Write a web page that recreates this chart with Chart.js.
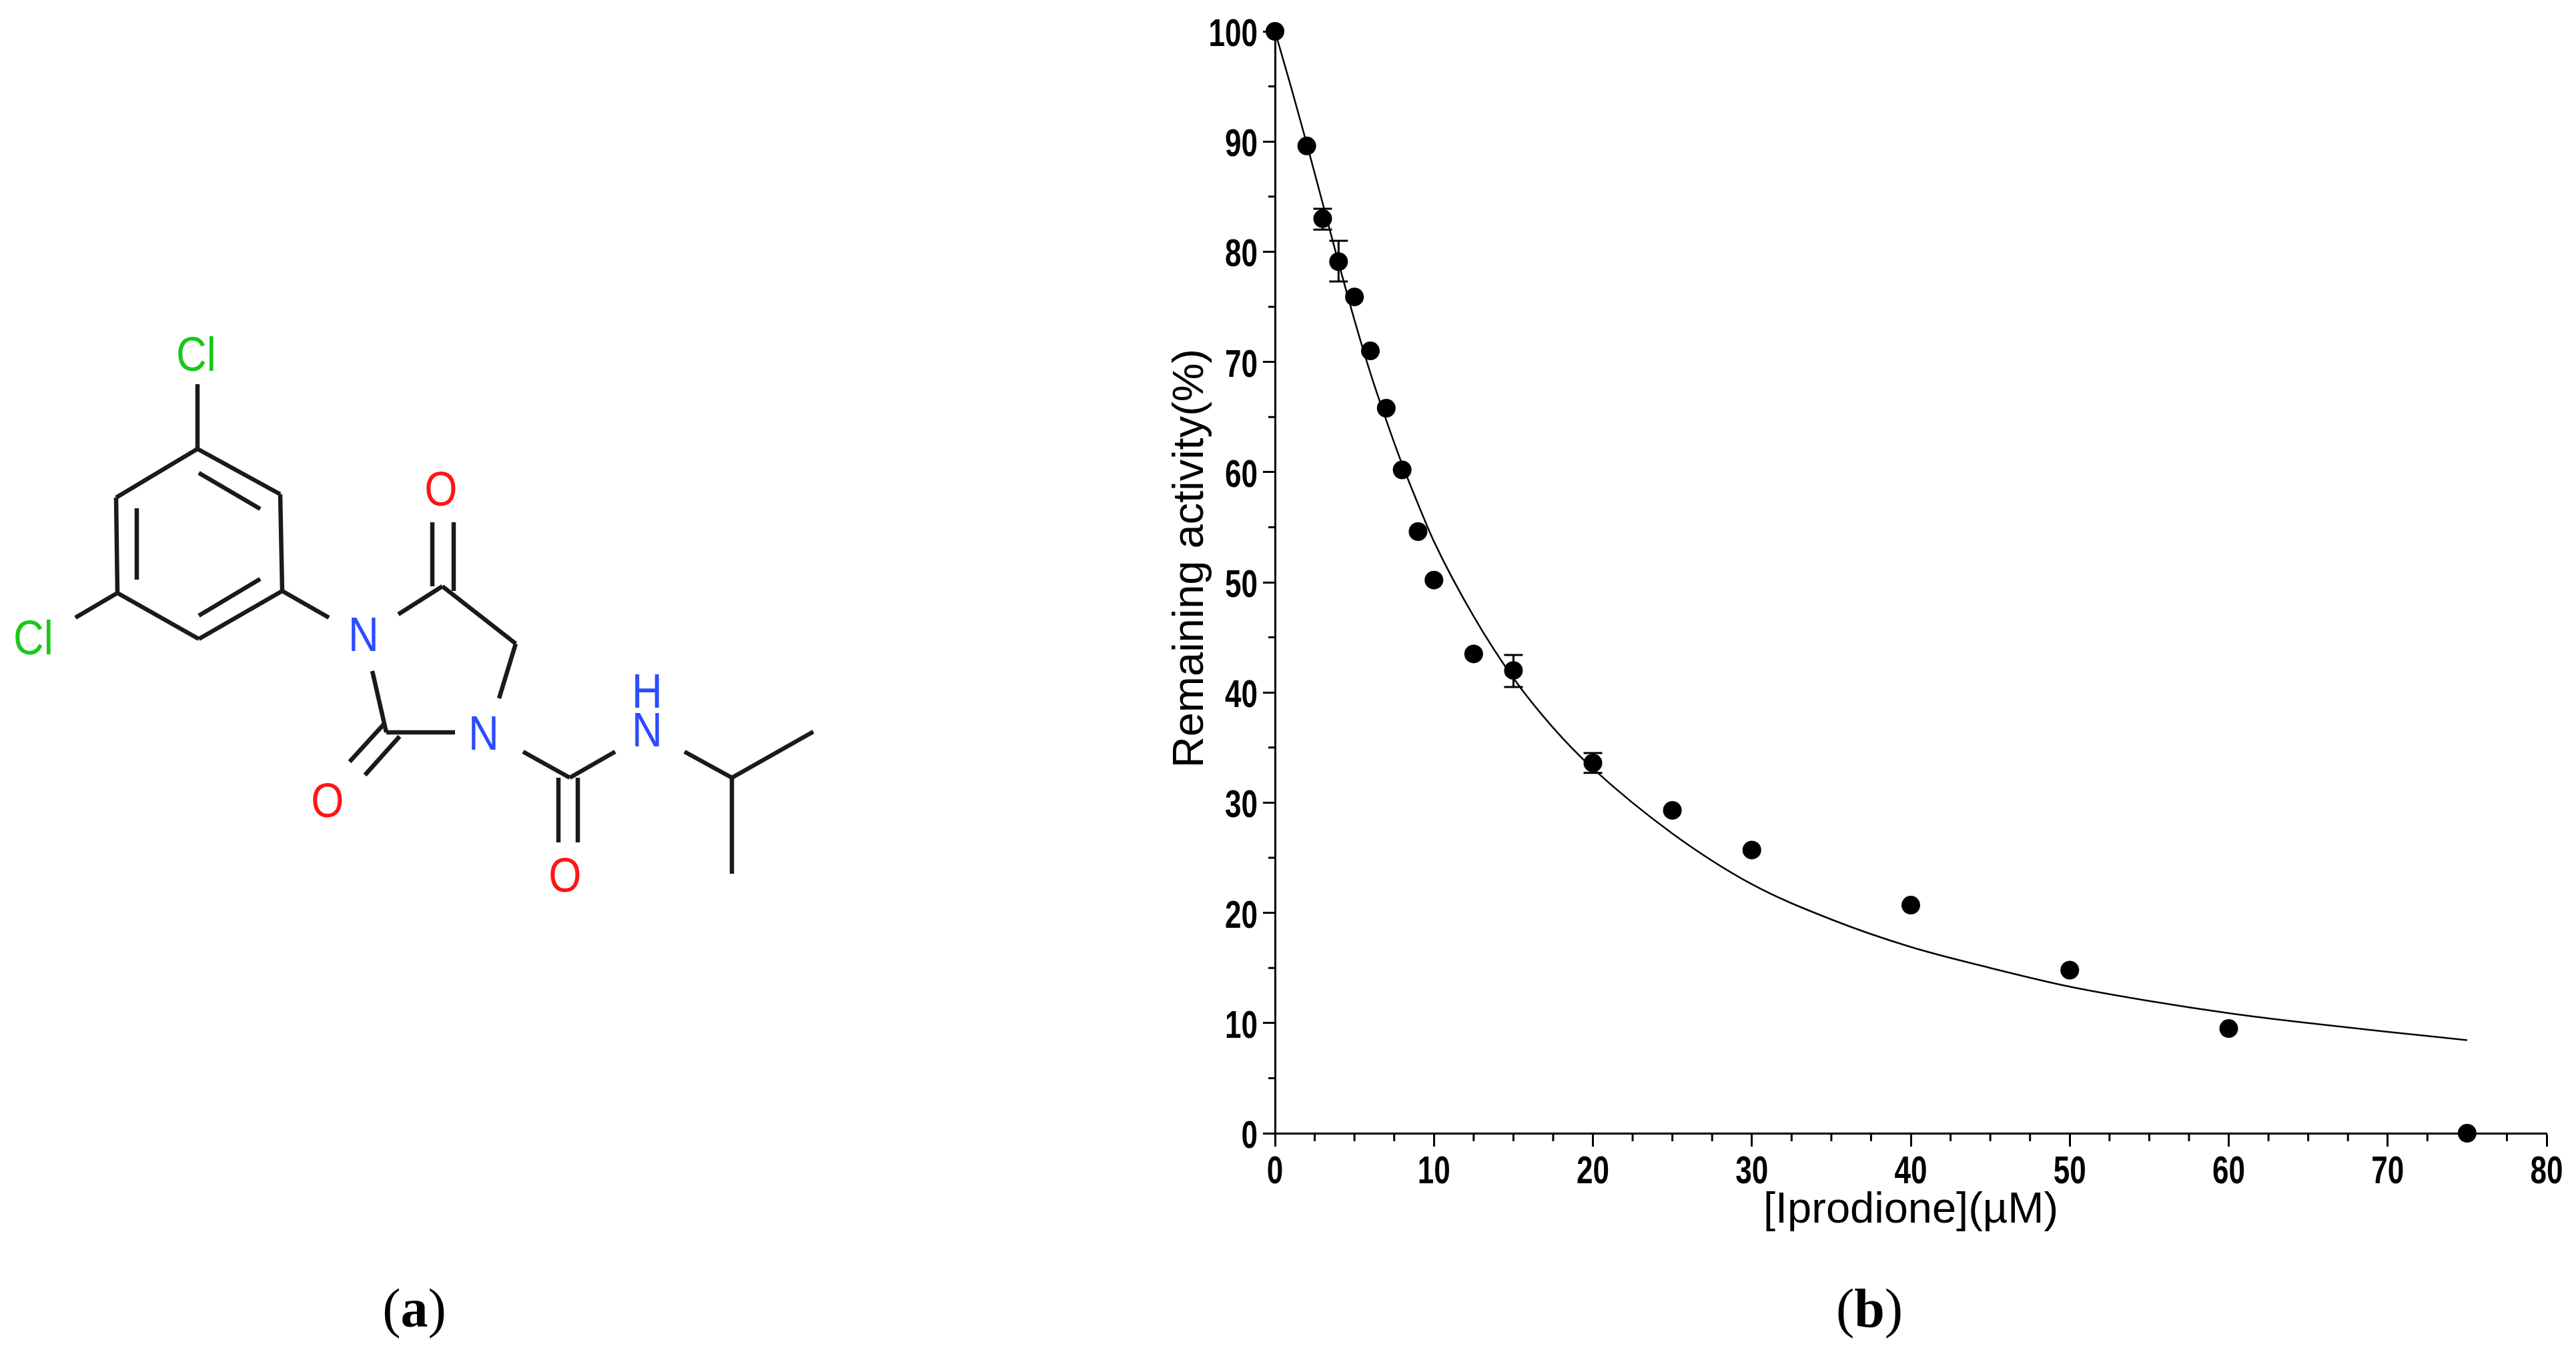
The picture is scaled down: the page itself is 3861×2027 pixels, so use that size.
<!DOCTYPE html>
<html>
<head>
<meta charset="utf-8">
<script src="https://cdn.jsdelivr.net/npm/chart.js@4"></script>
<style>
  html, body { margin: 0; padding: 0; background: #fff; width: 3861px; height: 2027px; overflow: hidden; }
  canvas { position: absolute; }
  #molecule { left: 0; top: 450px; }
  #activity { left: 1700px; top: 0; }
  .panel { position: absolute; font-family: "Liberation Serif", serif; font-size: 82px; line-height: 90px; color: #000; transform: translateX(-50%); }
</style>
</head>
<body>
<canvas id="molecule" width="1300" height="950"></canvas>
<canvas id="activity" width="2161" height="2027"></canvas>
<div class="panel" style="left:621px; top:1917px">(<b>a</b>)</div>
<div class="panel" style="left:2802px; top:1917px">(<b>b</b>)</div>
<script>
// measured points
const doseValues = [0, 2, 3, 4, 5, 6, 7, 8, 9, 10, 12.5, 15, 20, 25, 30, 40, 50, 60, 75];
const activityValues = [100, 89.6, 83.0, 79.1, 75.9, 71.0, 65.8, 60.2, 54.6, 50.2, 43.5, 42.0, 33.6, 29.3, 25.7, 20.7, 14.8, 9.5, 0];
// x, low, high
const errorBars = [
    [3, 82.0, 83.9],
    [4, 77.3, 81.0],
    [15, 40.5, 43.4],
    [20, 32.7, 34.5]
];

// fitted curve
const curveDose = [0, 1, 2, 3, 4, 5, 6, 7, 8, 9, 10, 12.5, 15, 17.5, 20, 25, 30, 35, 40, 45, 50, 55, 60, 65, 70, 75];
const curveActivity = [100, 95, 89.8, 84.4, 79, 73.8, 69, 64.7, 60.7, 57.1, 53.7, 46.9, 41.3, 36.8, 33.1, 27.2, 22.6, 19.4, 16.9, 15, 13.3, 12, 10.9, 10, 9.2, 8.45];

const xTicks = [0, 10, 20, 30, 40, 50, 60, 70, 80];
const xMinorTicks = [2.5, 5, 7.5, 12.5, 15, 17.5, 22.5, 25, 27.5, 32.5, 35, 37.5, 42.5, 45, 47.5, 52.5, 55, 57.5, 62.5, 65, 67.5, 72.5, 75, 77.5];
const yMinorTicks = [5, 15, 25, 35, 45, 55, 65, 75, 85, 95];

const xTitle = "[Iprodione](µM)";
const yTitle = "Remaining activity(%)";

// molecule, panel (a): x1, y1, x2, y2
const bonds = [
    [296, 223, 420, 291], [420, 291, 423, 436], [423, 436, 298, 508],
    [298, 508, 176, 439], [176, 439, 174, 296], [174, 296, 296, 223],
    [298, 259, 390, 313], [298, 473, 390, 418], [205, 312, 205, 419],
    [296, 126, 296, 223], [113, 476, 176, 439], [423, 436, 493, 476],
    [597, 471, 663, 429], [648, 333, 648, 429], [680, 333, 680, 436],
    [663, 429, 773, 515], [773, 515, 748, 597], [558, 556, 579, 648],
    [579, 648, 682, 648], [576, 635, 524, 692], [599, 654, 547, 712],
    [784, 677, 854, 716], [854, 716, 922, 677], [837, 716, 837, 813],
    [866, 716, 866, 813], [1026, 677, 1097, 716], [1097, 716, 1219, 647],
    [1097, 716, 1097, 860]
];
const atomLabels = ["Cl", "Cl", "O", "N", "N", "O", "H", "N", "O"];
const atomX = [294, 50, 661, 545, 725, 491, 970, 970, 847];
const atomY = [86, 511, 288, 506, 654, 755, 591, 649, 867];
const atomColors = ["#19c819", "#19c819", "#ff1414", "#2d4bff", "#2d4bff", "#ff1414", "#2d4bff", "#2d4bff", "#ff1414"];

// no narrow font is installed, so squeeze the text horizontally
function squeezedText(ctx, text, x, y, squeeze) {
    ctx.save();
    ctx.translate(x, y);
    ctx.scale(squeeze, 1);
    ctx.fillText(text, 0, 0);
    ctx.restore();
}

const axisExtras = {
    id: "axisExtras",
    afterDatasetsDraw(chart) {
        const ctx = chart.ctx;
        const x = chart.scales.x;
        const y = chart.scales.y;
        ctx.save();
        ctx.strokeStyle = "#000";
        ctx.lineWidth = 3;
        ctx.beginPath();
        xMinorTicks.forEach(v => {
            ctx.moveTo(x.getPixelForValue(v), y.bottom);
            ctx.lineTo(x.getPixelForValue(v), y.bottom + 12);
        });
        yMinorTicks.forEach(v => {
            ctx.moveTo(x.left, y.getPixelForValue(v));
            ctx.lineTo(x.left - 10, y.getPixelForValue(v));
        });
        errorBars.forEach(b => {
            const px = x.getPixelForValue(b[0]);
            const lo = y.getPixelForValue(b[1]);
            const hi = y.getPixelForValue(b[2]);
            ctx.moveTo(px, lo);
            ctx.lineTo(px, hi);
            ctx.moveTo(px - 14, lo);
            ctx.lineTo(px + 14, lo);
            ctx.moveTo(px - 14, hi);
            ctx.lineTo(px + 14, hi);
        });
        ctx.stroke();

        ctx.fillStyle = "#000";
        ctx.font = 'bold 58px "Liberation Sans"';
        ctx.textBaseline = "alphabetic";
        ctx.textAlign = "center";
        x.ticks.forEach((t, i) => {
            squeezedText(ctx, t.label, x.getPixelForTick(i), y.bottom + 75, 0.76);
        });
        ctx.textAlign = "right";
        y.ticks.forEach((t, i) => {
            squeezedText(ctx, t.label, x.left - 26, y.getPixelForTick(i) + 22, 0.76);
        });

        // y title sits above the axis centre, so it can't use the scale title
        ctx.translate(85, 837);
        ctx.rotate(-Math.PI / 2);
        ctx.font = '65px "Liberation Sans"';
        ctx.textAlign = "center";
        ctx.textBaseline = "middle";
        ctx.fillText(yTitle, 0, 0);
        ctx.restore();
    }
};

const atomText = {
    id: "atomText",
    afterDatasetsDraw(chart) {
        const ctx = chart.ctx;
        ctx.save();
        ctx.font = '72px "Liberation Sans"';
        ctx.textAlign = "center";
        ctx.textBaseline = "middle";
        atomLabels.forEach((label, i) => {
            ctx.fillStyle = atomColors[i];
            squeezedText(ctx, label, chart.scales.x.getPixelForValue(atomX[i]), chart.scales.y.getPixelForValue(atomY[i]), 0.88);
        });
        ctx.restore();
    }
};

new Chart(document.getElementById("molecule"), {
    type: "scatter",
    data: {
        datasets: bonds.map(b => ({
            data: [{ x: b[0], y: b[1] }, { x: b[2], y: b[3] }],
            showLine: true,
            borderColor: "#1a1a1a",
            borderWidth: 6.5,
            pointRadius: 0
        }))
    },
    options: {
        responsive: false,
        animation: false,
        layout: { padding: 0 },
        plugins: { legend: { display: false }, tooltip: { enabled: false } },
        scales: {
            x: { display: false, min: 0, max: 1300 },
            y: { display: false, min: 0, max: 950, reverse: true }
        }
    },
    plugins: [atomText]
});

new Chart(document.getElementById("activity"), {
    type: "scatter",
    data: {
        datasets: [
            {
                label: "Fit",
                data: curveDose.map((d, i) => ({ x: d, y: curveActivity[i] })),
                showLine: true,
                cubicInterpolationMode: "monotone",
                borderColor: "#000",
                borderWidth: 2.5,
                pointRadius: 0,
                clip: false
            },
            {
                label: "Remaining activity",
                data: doseValues.map((d, i) => ({ x: d, y: activityValues[i] })),
                backgroundColor: "#000",
                borderWidth: 0,
                pointRadius: 14,
                clip: false
            }
        ]
    },
    options: {
        responsive: false,
        animation: false,
        layout: { padding: { top: 47, right: 44, bottom: 0, left: 0 } },
        plugins: { legend: { display: false }, tooltip: { enabled: false } },
        scales: {
            x: {
                type: "linear",
                min: 0,
                max: 80,
                afterBuildTicks: scale => { scale.ticks = xTicks.map(v => ({ value: v })); },
                afterFit: scale => { scale.height = 328; },
                grid: { drawOnChartArea: false, tickLength: 20, tickWidth: 3, tickColor: "#000" },
                border: { color: "#000", width: 3 },
                ticks: { display: false, autoSkip: false, maxRotation: 0 },
                title: {
                    display: true,
                    text: xTitle,
                    color: "#000",
                    font: { family: '"Liberation Sans"', size: 65 },
                    padding: { top: 0, bottom: 173 }
                }
            },
            y: {
                type: "linear",
                min: 0,
                max: 100,
                afterFit: scale => { scale.width = 211; },
                grid: { drawOnChartArea: false, tickLength: 18, tickWidth: 3, tickColor: "#000" },
                border: { color: "#000", width: 3 },
                ticks: { display: false, stepSize: 10, autoSkip: false }
            }
        }
    },
    plugins: [axisExtras]
});
</script>
</body>
</html>
